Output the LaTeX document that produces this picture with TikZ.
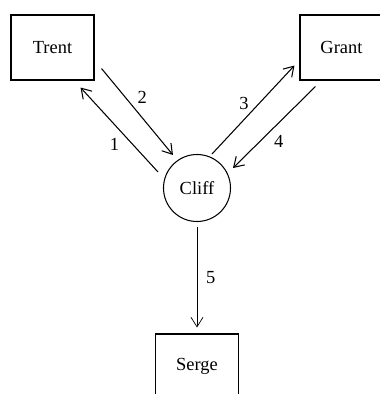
\documentclass[tikz,border=0pt]{standalone}
\usepackage{fontspec}
\setmainfont{Liberation Serif}
\usetikzlibrary{arrows.meta}

\begin{document}
\begin{tikzpicture}[
    font=\fontsize{10.5}{12}\selectfont,
    party/.style={draw, semithick, minimum width=1.66cm, minimum height=1.3cm},
    msg/.style={semithick, -{Straight Barb[length=1.9mm, width=2.4mm]}}
  ]
    % Marco
    \useasboundingbox (-3.94,3.76) rectangle (3.64,-4.12);

    % Nodos
    \node[draw, semithick, circle, minimum size=1.34cm, inner sep=0pt] (cliff) at (0,0) {Cliff};
    \node[party] (trent) at (-2.89,2.81) {Trent};
    \node[party] (grant) at (2.89,2.81) {Grant};
    \node[party] (serge) at (0,-3.57) {Serge};

    % Mensajes
    \draw[msg] ([shift={(-0.78,0.32)}]cliff.center) -- ([shift={(-0.28,-0.14)}]trent.south east)
        node[pos=0.45, below left, inner sep=2pt] {1};
    \draw[msg] ([shift={(0.14,0.24)}]trent.south east) -- ([shift={(-0.48,0.66)}]cliff.center)
        node[pos=0.45, above right, inner sep=2pt] {2};
    \draw[msg] ([shift={(0.30,0.68)}]cliff.center) -- ([shift={(-0.10,0.30)}]grant.south west)
        node[pos=0.47, above left, inner sep=1pt] {3};
    \draw[msg] ([shift={(0.32,-0.12)}]grant.south west) -- ([shift={(0.72,0.40)}]cliff.center)
        node[pos=0.55, below right, inner sep=2pt] {4};
    \draw[msg, thin, shorten <=0.1cm, shorten >=0.12cm] (cliff) -- (serge)
        node[midway, right, inner sep=5pt] {5};
\end{tikzpicture}
\end{document}
